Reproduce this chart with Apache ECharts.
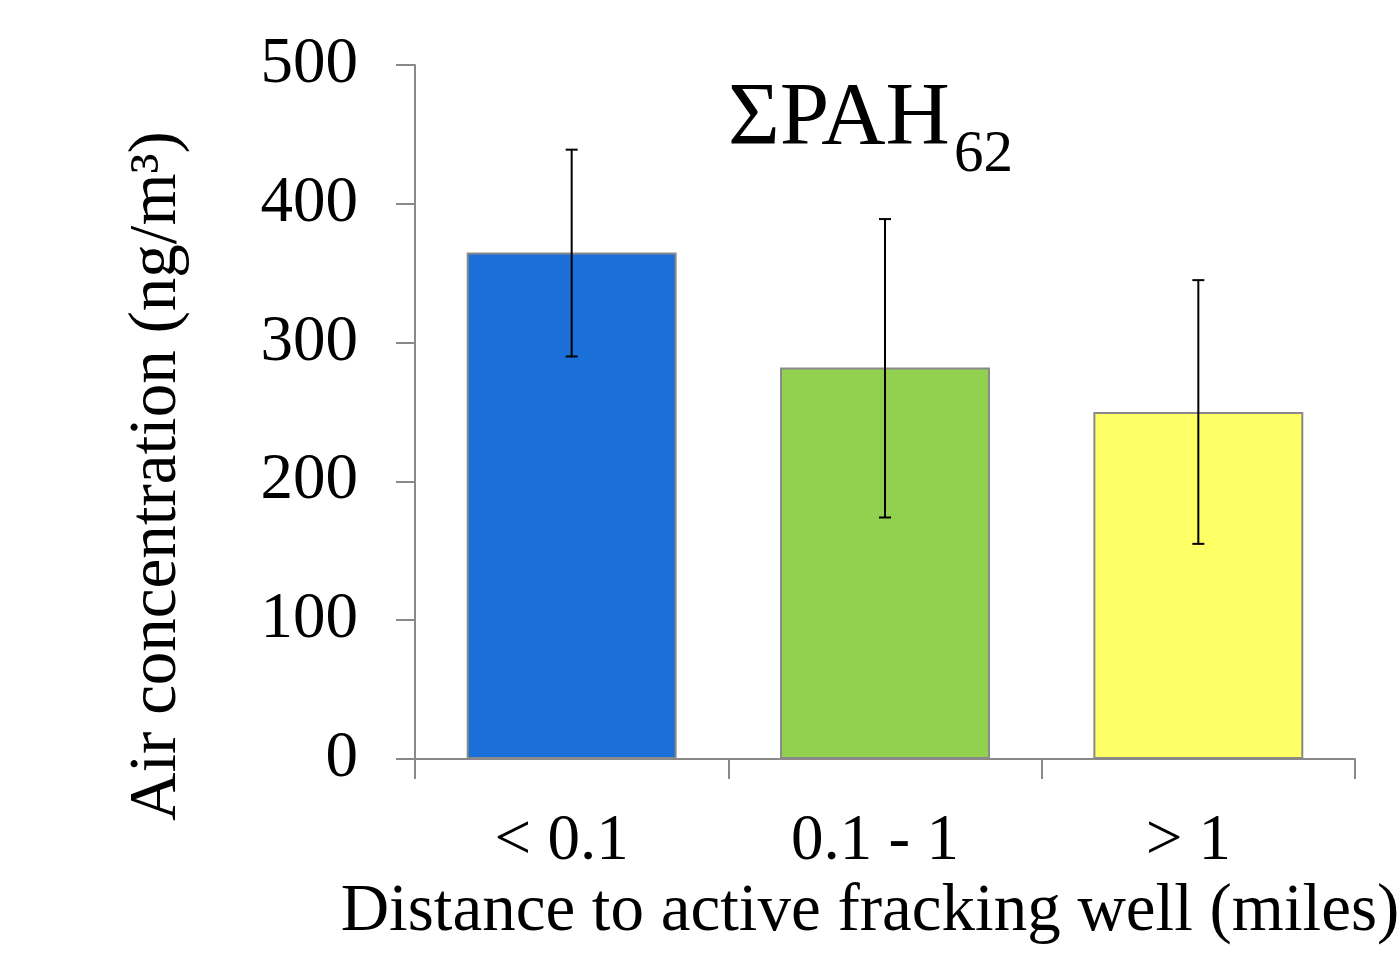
<!DOCTYPE html>
<html>
<head>
<meta charset="utf-8">
<script src="https://cdn.jsdelivr.net/npm/echarts@6/dist/echarts.min.js"></script>
<style>
  html, body { margin: 0; padding: 0; background: #fff; }
  #chart { width: 1399px; height: 958px; }
</style>
</head>
<body>
<div id="chart"></div>
<script>
const categories = ['< 0.1', '0.1 - 1', '> 1'];
const means = [365, 282, 250];
const errLow = [290, 174, 155];
const errHigh = [439, 389, 345];
const barColors = ['#1a6fd9', '#92d150', '#ffff66'];

const serif = '"Liberation Serif", "Times New Roman", serif';
const axisGrey = '#898989';

const chart = echarts.init(document.getElementById('chart'));

const errData = categories.map((c, i) => [i, errLow[i], errHigh[i]]);

chart.setOption({
  animation: false,
  grid: { left: 415, right: 44, top: 65, bottom: 199 },
  xAxis: {
    type: 'category',
    data: categories,
    axisLine: { lineStyle: { color: axisGrey, width: 2 } },
    axisTick: { show: true, length: 20, lineStyle: { color: axisGrey, width: 2 } },
    axisLabel: {
      color: '#000', fontFamily: serif, fontSize: 65, margin: 50,
      padding: [0, 20, 0, 0]
    }
  },
  yAxis: {
    type: 'value',
    min: 0, max: 500, interval: 100,
    splitLine: { show: false },
    axisLine: { show: true, lineStyle: { color: axisGrey, width: 2 } },
    axisTick: { show: true, length: 19, lineStyle: { color: axisGrey, width: 2 } },
    axisLabel: { color: '#000', fontFamily: serif, fontSize: 65, margin: 57, padding: [3, 0, 0, 0] }
  },
  series: [
    {
      type: 'bar',
      data: means.map((v, i) => ({ value: v, itemStyle: { color: barColors[i] } })),
      barCategoryGap: '33%',
      itemStyle: { borderColor: axisGrey, borderWidth: 2 }
    },
    {
      type: 'custom',
      data: errData,
      z: 5,
      renderItem: function (params, api) {
        const x = api.value(0);
        const top = api.coord([x, api.value(2)]);
        const bot = api.coord([x, api.value(1)]);
        const half = 6;
        const style = { stroke: '#000', lineWidth: 2 };
        return {
          type: 'group',
          children: [
            { type: 'line', shape: { x1: top[0], y1: top[1], x2: bot[0], y2: bot[1] }, style: style },
            { type: 'line', shape: { x1: top[0] - half, y1: top[1], x2: top[0] + half, y2: top[1] }, style: style },
            { type: 'line', shape: { x1: bot[0] - half, y1: bot[1], x2: bot[0] + half, y2: bot[1] }, style: style }
          ]
        };
      }
    }
  ],
  graphic: [
    {
      type: 'text', left: 728, top: 75,
      style: { text: 'ΣPAH', font: '89px ' + serif, fill: '#000' }
    },
    {
      type: 'text', left: 954, top: 126,
      style: { text: '62', font: '59px ' + serif, fill: '#000' }
    },
    {
      type: 'text', x: 157, y: 476, rotation: Math.PI / 2,
      style: {
        text: 'Air concentration (ng/m³)', font: '67px ' + serif, fill: '#000',
        align: 'center', verticalAlign: 'middle'
      }
    },
    {
      type: 'text', x: 870, y: 912,
      style: {
        text: 'Distance to active fracking well (miles)', font: '67px ' + serif, fill: '#000',
        align: 'center', verticalAlign: 'middle'
      }
    }
  ]
});
</script>
</body>
</html>
